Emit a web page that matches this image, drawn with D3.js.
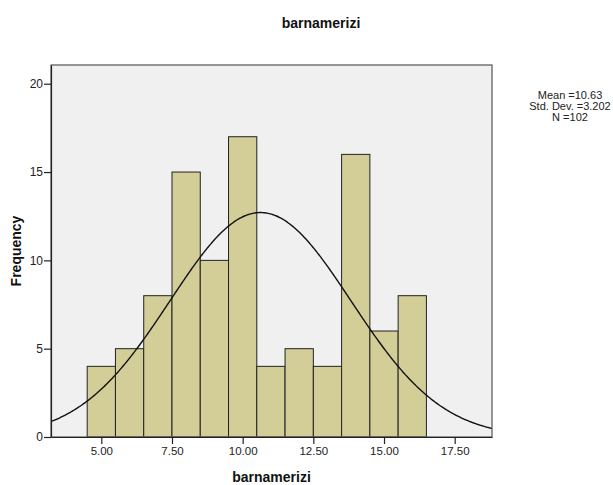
<!DOCTYPE html>
<html>
<head>
<meta charset="utf-8">
<script src="https://cdn.jsdelivr.net/npm/d3@7"></script>
<style>
  body { margin: 0; background: #fff; }
  text { font-family: "Liberation Sans", Arial, sans-serif; }
</style>
</head>
<body>
<div id="chart"></div>
<script>
// histogram bins (width 1, from 4.5 to 16.5)
var binStarts = [4.5, 5.5, 6.5, 7.5, 8.5, 9.5, 10.5, 11.5, 12.5, 13.5, 14.5, 15.5];
var counts = [4, 5, 8, 15, 10, 17, 4, 5, 4, 16, 6, 8];
var xTicks = [5, 7.5, 10, 12.5, 15, 17.5];
var yTicks = [0, 5, 10, 15, 20];
var statLines = ["Mean =10.63", "Std. Dev. =3.202", "N =102"];
var mean = 10.63, sd = 3.202, n = 102, binWidth = 1;

var W = 613, H = 485;
var margin = { top: 65, right: 121, bottom: 48, left: 51 };
var width = W - margin.left - margin.right;
var height = H - margin.top - margin.bottom;

var svg = d3.select("#chart").append("svg")
  .attr("width", W)
  .attr("height", H);

var g = svg.append("g")
  .attr("transform", "translate(" + margin.left + "," + margin.top + ")");

var xScale = d3.scaleLinear().domain([3.22, 18.82]).range([0, width]);
var yScale = d3.scaleLinear().domain([0, 21.06]).range([height, 0]);

// plot background
g.append("rect")
  .attr("width", width)
  .attr("height", height)
  .attr("fill", "#f0f0f0");

// bars
g.selectAll(".bar")
  .data(counts)
  .enter().append("rect")
  .attr("class", "bar")
  .attr("x", function(d, i) { return xScale(binStarts[i]); })
  .attr("width", function(d, i) { return xScale(binStarts[i] + binWidth) - xScale(binStarts[i]); })
  .attr("y", function(d) { return yScale(d); })
  .attr("height", function(d) { return height - yScale(d); })
  .attr("fill", "#d3ce97")
  .attr("stroke", "#222")
  .attr("stroke-width", 1);

// normal curve
var curveX = d3.range(0, 401).map(function(i) {
  return 3.22 + (18.82 - 3.22) * i / 400;
});
var line = d3.line()
  .x(function(v) { return xScale(v); })
  .y(function(v) {
    var z = (v - mean) / sd;
    return yScale(n * binWidth / (sd * Math.sqrt(2 * Math.PI)) * Math.exp(-0.5 * z * z));
  })
  .curve(d3.curveBasis);

g.append("path")
  .datum(curveX)
  .attr("d", line)
  .attr("fill", "none")
  .attr("stroke", "#111")
  .attr("stroke-width", 1.4);

// frame
g.append("rect")
  .attr("width", width)
  .attr("height", height)
  .attr("fill", "none")
  .attr("stroke", "#555")
  .attr("stroke-width", 1.2);

// axes
var xAxis = g.append("g")
  .attr("transform", "translate(0," + height + ")")
  .call(d3.axisBottom(xScale).tickValues(xTicks).tickFormat(d3.format(".2f")).tickSize(7).tickSizeOuter(0));

var yAxis = g.append("g")
  .call(d3.axisLeft(yScale).tickValues(yTicks).tickFormat(d3.format("d")).tickSize(7).tickSizeOuter(0));

[xAxis, yAxis].forEach(function(a) {
  a.select(".domain").attr("stroke", "#222").attr("stroke-width", 1.2);
  a.selectAll(".tick line").attr("stroke", "#222").attr("stroke-width", 1.2);
  a.selectAll(".tick text")
    .attr("fill", "#222")
    .style("font-family", "'Liberation Sans', Arial, sans-serif");
});
xAxis.selectAll(".tick text").style("font-size", "11.5px").attr("dy", "0.95em").attr("y", 7);
yAxis.selectAll(".tick text").style("font-size", "12px").attr("x", -8);

// title
svg.append("text")
  .attr("x", 321)
  .attr("y", 28)
  .attr("text-anchor", "middle")
  .style("font-size", "14px")
  .style("font-weight", "bold")
  .attr("fill", "#111")
  .text("barnamerizi");

// x axis label
svg.append("text")
  .attr("x", margin.left + width / 2)
  .attr("y", 482)
  .attr("text-anchor", "middle")
  .style("font-size", "14px")
  .style("font-weight", "bold")
  .attr("fill", "#111")
  .text("barnamerizi");

// y axis label
svg.append("text")
  .attr("transform", "translate(21," + (margin.top + height / 2) + ") rotate(-90)")
  .attr("text-anchor", "middle")
  .style("font-size", "14px")
  .style("font-weight", "bold")
  .attr("fill", "#111")
  .text("Frequency");

// stats block
svg.append("g").selectAll("text")
  .data(statLines)
  .enter().append("text")
  .attr("x", 570)
  .attr("y", function(d, i) { return 99 + i * 11; })
  .attr("text-anchor", "middle")
  .style("font-size", "11px")
  .attr("fill", "#222")
  .text(function(d) { return d; });
</script>
</body>
</html>
